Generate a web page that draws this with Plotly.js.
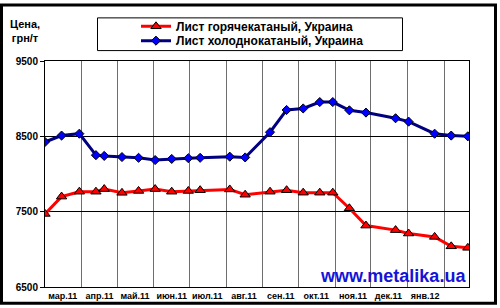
<!DOCTYPE html>
<html>
<head>
<meta charset="utf-8">
<script src="https://cdn.plot.ly/plotly-3.0.1.min.js"></script>
<style>
html,body{margin:0;padding:0;background:#fff;}
#chart{width:500px;height:308px;}
</style>
</head>
<body>
<div id="chart"></div>
<script>
// Dates of observations
const dates = ['2011-03-01','2011-03-15','2011-03-30','2011-04-13','2011-04-20','2011-05-05','2011-05-19','2011-06-02','2011-06-16','2011-06-30','2011-07-10','2011-08-04','2011-08-17','2011-09-07','2011-09-21','2011-10-05','2011-10-19','2011-10-30','2011-11-13','2011-11-27','2011-12-22','2012-01-02','2012-01-24','2012-02-07','2012-02-21'];
// Лист горячекатаный, Украина (грн/т)
const hotRolled = [7470,7700,7765,7765,7800,7750,7775,7800,7765,7775,7785,7795,7725,7765,7785,7752,7752,7752,7545,7315,7255,7210,7165,7040,7020];
// Лист холоднокатаный, Украина (грн/т)
const coldRolled = [8425,8510,8535,8250,8240,8225,8215,8185,8200,8210,8215,8230,8220,8555,8850,8870,8955,8955,8845,8815,8740,8695,8535,8510,8500];
// Month tick labels (centered within each month)
const monthTickVals = ['2011-03-16','2011-04-16','2011-05-16','2011-06-16','2011-07-16','2011-08-16','2011-09-16','2011-10-16','2011-11-16','2011-12-16','2012-01-16'];
const monthTickText = ['мар.11','апр.11','май.11','июн.11','июл.11','авг.11','сен.11','окт.11','ноя.11','дек.11','янв.12'];
const yTicks = [6500,7500,8500,9500];
const seriesNames = ['Лист горячекатаный, Украина','Лист холоднокатаный, Украина'];

const FONT = 'Arial, "Liberation Sans", sans-serif';

const traces = [
  {
    x: dates, y: hotRolled, name: seriesNames[0], type: 'scatter', mode: 'lines+markers',
    line: {color: '#ff0000', width: 3},
    marker: {symbol: 'triangle-up', size: 9, color: '#ff0000', line: {color: '#000000', width: 1}},
    legend: 'legend'
  },
  {
    x: dates, y: coldRolled, name: seriesNames[1], type: 'scatter', mode: 'lines+markers',
    line: {color: '#000080', width: 3},
    marker: {symbol: 'diamond', size: 7, color: '#0000ff', line: {color: '#000000', width: 1}},
    legend: 'legend2'
  }
];

const legendCommon = {
  xref: 'paper', yref: 'paper', xanchor: 'left', yanchor: 'middle',
  bgcolor: 'rgba(0,0,0,0)', borderwidth: 0,
  font: {family: FONT, size: 12, color: '#000', weight: 'bold'},
  itemwidth: 30
};

const layout = {
  width: 500, height: 308,
  margin: {l: 45, r: 31, t: 59, b: 21, pad: 0},
  paper_bgcolor: '#ffffff', plot_bgcolor: '#ffffff',
  font: {family: FONT, color: '#000'},
  showlegend: true,
  legend: Object.assign({}, legendCommon, {x: (136 - 45) / 424, y: (287 - 24) / 228}),
  legend2: Object.assign({}, legendCommon, {x: (136 - 45) / 424, y: (287 - 38.5) / 228}),
  xaxis: {
    type: 'date',
    range: ['2011-03-01', '2012-02-22'],
    tickmode: 'array', tickvals: monthTickVals, ticktext: monthTickText,
    showgrid: false, ticks: '', zeroline: false,
    showline: true, linecolor: '#000', linewidth: 1, mirror: true,
    tickfont: {family: FONT, size: 9, color: '#000', weight: 'bold'},
    minor: {tick0: '2011-03-01', dtick: 'M1', showgrid: true, gridcolor: '#6e6e6e', gridwidth: 1, ticks: ''}
  },
  yaxis: {
    range: [6500, 9500],
    tickmode: 'array', tickvals: yTicks,
    showgrid: true, gridcolor: '#000', gridwidth: 1, zeroline: false,
    ticks: 'outside', ticklen: 4, tickcolor: '#000', tickwidth: 1,
    showline: true, linecolor: '#000', linewidth: 1, mirror: true,
    tickfont: {family: FONT, size: 10, color: '#000', weight: 'bold'}
  },
  shapes: [
    // outer frame
    {type: 'rect', xref: 'paper', yref: 'paper',
     x0: (1.5 - 45) / 424, x1: (495.5 - 45) / 424, y0: (287 - 303.5) / 228, y1: (287 - 2.5) / 228,
     line: {color: '#000', width: 3}, fillcolor: 'rgba(0,0,0,0)', layer: 'above'},
    // legend box
    {type: 'rect', xref: 'paper', yref: 'paper',
     x0: (97.5 - 45) / 424, x1: (402.5 - 45) / 424, y0: (287 - 48.5) / 228, y1: (287 - 15.5) / 228,
     line: {color: '#000', width: 1}, fillcolor: 'rgba(0,0,0,0)', layer: 'below'}
  ],
  annotations: [
    {text: 'Цена,<br>грн/т', xref: 'paper', yref: 'paper',
     x: (25 - 45) / 424, y: (287 - 29) / 228, xanchor: 'center', yanchor: 'middle',
     showarrow: false, align: 'center',
     font: {family: FONT, size: 11, color: '#000', weight: 'bold'}},
    {text: 'www.metalika.ua', xref: 'paper', yref: 'paper',
     x: (393 - 45) / 424, y: (287 - 276) / 228, xanchor: 'center', yanchor: 'middle',
     showarrow: false,
     font: {family: FONT, size: 18, color: '#1414d8', weight: 'bold'}}
  ]
};

Plotly.newPlot('chart', traces, layout, {displayModeBar: false, staticPlot: true});
</script>
</body>
</html>
